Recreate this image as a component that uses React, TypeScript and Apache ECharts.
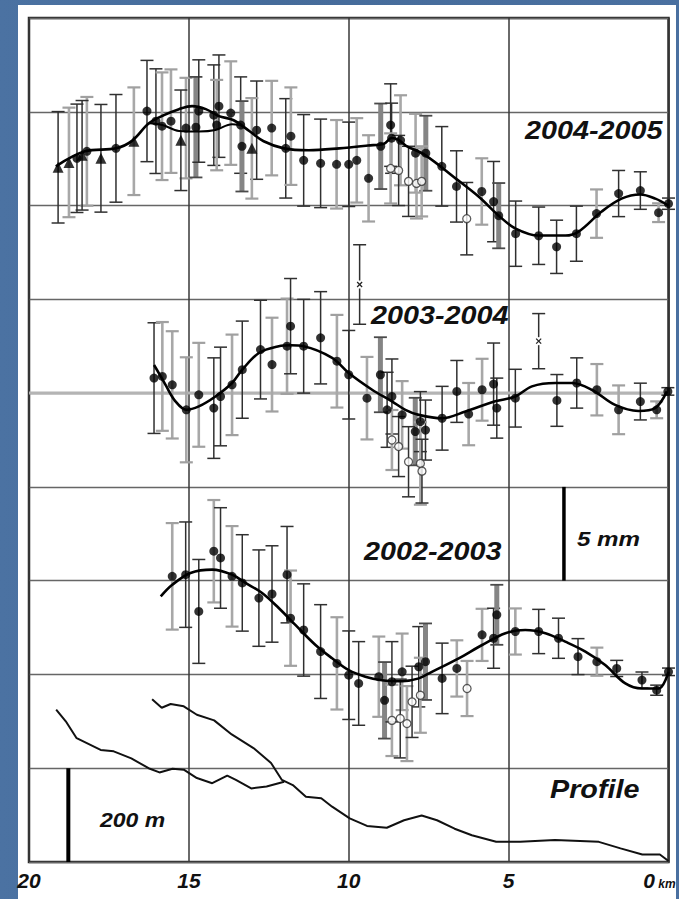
import React, { useEffect, useRef } from "react";
import * as echarts from "echarts";

// [distance km, displacement mm, ± error mm, survey source (0 = levelling A, 1 = levelling B, 2 = combined)]
type Obs = [number, number, number, number];
type Pt = [number, number];

// ---- 2004-2005 ----
const dots0405: Obs[] = [
  [18.5, 2.52, 2.89, 0], [18.19, 2.89, 2.9, 1], [17.28, 3.05, 2.87, 0], [16.31, 5.04, 2.7, 0],
  [16.03, 4.5, 2.79, 0], [15.84, 4.23, 2.87, 1], [15.56, 4.5, 2.76, 1], [15.09, 4.13, 2.68, 1],
  [14.78, 4.18, 2.68, 2], [14.69, 5.04, 2.73, 0], [14.22, 4.82, 2.68, 0], [14.06, 5.3, 2.73, 0],
  [14.13, 4.29, 2.41, 1], [13.69, 4.93, 2.76, 1], [13.38, 4.29, 2.57, 0], [13.34, 3.16, 2.41, 2],
  [12.88, 4.02, 2.62, 0], [12.41, 4.13, 2.52, 1], [11.97, 3.05, 2.65, 0], [11.81, 3.7, 2.6, 1],
  [11.41, 2.41, 2.44, 0], [10.88, 2.25, 2.36, 0], [10.38, 2.2, 2.36, 1], [10.0, 2.2, 2.25, 0],
  [9.75, 2.41, 2.25, 1], [9.38, 1.45, 2.3, 1], [9.0, 3.16, 2.28, 2], [8.69, 4.29, 2.2, 0],
  [8.66, 3.59, 1.87, 0], [8.38, 3.48, 2.4, 1], [7.91, 2.79, 2.1, 1], [7.59, 2.79, 2.0, 2],
  [7.09, 2.09, 2.12, 0], [6.63, 1.02, 1.9, 0], [5.84, 0.75, 1.77, 1], [5.47, 0.21, 2.14, 0],
  [5.31, -0.54, 1.74, 2], [4.78, -1.5, 1.74, 0], [4.06, -1.61, 1.53, 0], [3.5, -2.2, 1.42, 0],
  [2.88, -1.5, 1.47, 0], [2.25, -0.43, 1.29, 1], [1.56, 0.64, 1.23, 0], [0.88, 0.8, 1.0, 0],
  [0.31, -0.38, 0.5, 1], [0.0, 0.1, 0.3, 0],
];
const triangles0405: Obs[] = [
  [19.09, 2.04, 2.97, 0], [18.75, 2.3, 2.92, 1], [18.34, 2.68, 2.92, 0], [17.75, 2.52, 2.87, 0],
  [16.72, 3.43, 2.87, 1], [15.25, 3.48, 2.68, 0], [13.03, 3.05, 2.68, 1],
];
const open0405: Obs[] = [
  [8.69, 1.98, 1.87, 1], [8.44, 1.87, 1.87, 0], [8.13, 1.29, 1.87, 0], [7.88, 1.18, 1.87, 1],
  [7.72, 1.29, 1.87, 1], [6.31, -0.7, 1.93, 0],
];
const fit0405: Pt[] = [
  [19.16, 2.09], [18.25, 2.89], [17.28, 3.05], [16.78, 3.45], [16.25, 4.39], [15.78, 4.82],
  [15.31, 5.14], [14.9, 5.3], [14.47, 5.14], [14.06, 4.77], [13.6, 4.55], [13.1, 3.96],
  [12.66, 3.43], [12.03, 3.05], [11.25, 2.95], [10.3, 3.05], [9.4, 3.2], [8.9, 3.3],
  [8.66, 3.6], [8.44, 3.5], [8.22, 3.2], [7.6, 2.68], [6.66, 1.45], [5.94, 0.48],
  [5.31, -0.54], [4.78, -1.23], [4.06, -1.6], [3.22, -1.6], [2.81, -1.39], [2.09, -0.32],
  [1.47, 0.37], [0.88, 0.59], [0.41, 0.37], [0.0, 0.0],
];
const fit0405Alt: Pt[] = [
  [16.25, 4.39], [15.83, 4.3], [15.31, 3.98], [14.69, 3.95], [14.17, 4.03], [13.65, 4.34], [13.4, 4.3],
];

// ---- 2003-2004 ----
const dots0304: Obs[] = [
  [16.09, 0.8, 2.95, 0], [15.83, 0.89, 2.9, 1], [15.52, 0.44, 2.86, 1], [15.08, -0.89, 2.8, 1],
  [14.69, -0.09, 2.77, 1], [14.22, -0.8, 2.68, 0], [14.01, -0.18, 2.63, 0], [13.65, 0.44, 2.68, 1],
  [13.33, 1.25, 2.59, 0], [12.76, 2.32, 2.63, 0], [12.4, 1.52, 2.5, 1], [11.93, 2.5, 2.54, 1],
  [11.82, 3.57, 2.54, 0], [11.41, 2.5, 2.5, 0], [10.88, 2.95, 2.46, 0], [10.37, 1.7, 2.47, 1],
  [10.0, 0.98, 2.36, 0], [9.43, -0.27, 2.2, 1], [9.01, 0.98, 2.0, 2], [8.8, -0.89, 2.0, 0],
  [8.65, -0.18, 2.0, 0], [8.33, -1.16, 1.8, 1], [7.92, -2.05, 1.8, 2], [7.76, -1.52, 1.6, 0],
  [7.6, -1.97, 1.6, 0], [7.08, -1.34, 1.7, 0], [6.62, 0.09, 1.65, 0], [6.25, -1.12, 1.66, 1],
  [5.83, 0.18, 1.65, 1], [5.47, 0.48, 2.19, 0], [5.37, -0.8, 1.6, 0], [4.79, -0.27, 1.54, 0],
  [3.49, -0.39, 1.38, 0], [2.87, 0.54, 1.34, 0], [2.24, 0.18, 1.37, 1], [1.56, -0.89, 1.3, 1],
  [0.88, -0.45, 0.98, 0], [0.37, -0.89, 0.45, 1], [0.02, 0.09, 0.2, 0],
];
const open0304: Obs[] = [
  [8.65, -2.5, 1.6, 1], [8.44, -2.85, 1.6, 0], [8.13, -3.66, 1.87, 0], [7.76, -3.75, 2.2, 1],
  [7.71, -4.16, 1.7, 0],
];
const cross0304: Obs[] = [
  [9.66, 5.79, 2.12, 0], [4.06, 2.77, 1.47, 0],
];
const fit0304: Pt[] = [
  [16.09, 1.5], [15.94, 1.07], [15.73, 0.44], [15.42, -0.44], [15.08, -0.89], [14.69, -0.71],
  [14.17, -0.18], [13.65, 0.54], [13.33, 1.25], [12.81, 2.14], [12.19, 2.5], [11.82, 2.55],
  [11.41, 2.5], [10.52, 1.88], [10.0, 1.07], [9.27, 0.18], [8.65, -0.44], [8.23, -0.89],
  [7.81, -1.16], [7.08, -1.34], [6.35, -0.98], [5.42, -0.44], [4.79, -0.18], [4.27, 0.36],
  [3.54, 0.54], [3.02, 0.54], [2.4, 0.18], [1.67, -0.63], [0.94, -0.95], [0.42, -0.8], [0.05, 0.09],
];

// ---- 2002-2003 ----
const dots0203: Obs[] = [
  [15.52, 5.23, 2.84, 1], [15.1, 5.32, 2.81, 0], [14.69, 3.36, 2.77, 0], [14.22, 6.57, 2.73, 1],
  [14.01, 6.21, 2.68, 0], [13.65, 5.23, 2.68, 1], [13.33, 4.88, 2.57, 0], [12.81, 4.07, 2.57, 0],
  [12.4, 4.29, 2.57, 0], [11.93, 5.32, 2.57, 0], [11.82, 3.0, 2.54, 1], [11.41, 2.37, 2.46, 0],
  [10.88, 1.22, 2.5, 0], [10.37, 0.59, 2.46, 1], [10.0, -0.04, 2.36, 0], [9.69, -0.48, 2.23, 0],
  [9.06, -0.12, 2.14, 1], [8.88, -1.38, 2.04, 2], [8.65, -0.39, 2.14, 0], [8.33, 0.14, 2.04, 1],
  [7.81, 0.41, 2.14, 0], [7.6, 0.68, 2.04, 2], [7.08, -0.21, 1.88, 0], [6.62, 0.32, 1.5, 1],
  [5.83, 2.11, 1.39, 1], [5.47, 1.93, 1.6, 0], [5.37, 3.18, 1.6, 2], [4.79, 2.29, 1.23, 1],
  [4.06, 2.29, 1.18, 0], [3.44, 1.93, 1.07, 0], [2.83, 0.95, 0.96, 0], [2.24, 0.68, 0.75, 1],
  [1.62, 0.32, 0.43, 0], [0.83, -0.3, 0.43, 0], [0.37, -0.84, 0.27, 0], [0.0, 0.14, 0.2, 0],
];
const open0203: Obs[] = [
  [8.65, -2.45, 1.9, 1], [8.39, -2.35, 2.1, 0], [8.18, -2.62, 2.0, 1], [8.02, -1.46, 1.9, 0],
  [7.76, -1.11, 2.0, 1], [6.3, -0.75, 1.47, 1],
];
const fit0203: Pt[] = [
  [15.88, 4.16], [15.52, 4.78], [14.95, 5.41], [14.27, 5.59], [13.65, 5.32], [13.23, 4.88],
  [12.71, 4.34], [12.19, 3.54], [11.67, 2.64], [11.04, 1.57], [10.52, 0.86], [10.0, 0.23],
  [9.48, -0.12], [8.96, -0.31], [8.33, -0.36], [7.81, -0.21], [7.4, 0.14], [6.56, 0.86],
  [5.83, 1.57], [5.1, 2.2], [4.48, 2.37], [3.85, 2.2], [3.23, 1.75], [2.6, 1.22], [1.98, 0.5],
  [1.35, -0.48], [0.83, -0.75], [0.31, -0.75], [0.0, 0.14],
];

// ---- topographic profile, elevation in m ----
const profileUpper: Pt[] = [
  [19.15, 325], [18.85, 300], [18.51, 264], [17.76, 239], [17.35, 236], [16.8, 221],
  [16.26, 200], [15.92, 191], [15.51, 199], [15.16, 197], [14.75, 179], [14.27, 168],
  [13.8, 184], [13.53, 175], [13.05, 157], [12.57, 161], [12.02, 171],
];
const profileLower: Pt[] = [
  [16.15, 347], [15.85, 329], [15.57, 337], [15.16, 332], [14.75, 314], [14.21, 302],
  [13.66, 272], [12.98, 243], [12.43, 211], [12.09, 175], [11.75, 164], [11.34, 139],
  [10.86, 136], [10.52, 118], [9.97, 93], [9.43, 77], [8.81, 73], [8.27, 89], [7.72, 99],
  [7.24, 89], [6.69, 71], [6.15, 57], [5.39, 43], [4.64, 43], [3.55, 47], [2.18, 43],
  [1.5, 29], [0.82, 16], [0.27, 16], [0.0, 2],
];

const panelTitles = ["2004-2005", "2003-2004", "2002-2003"];
const kmTicks = [0, 5, 10, 15, 20];
const distanceUnit = "km";

// zero line of each survey on the shared millimetre axis
const BASE_0405 = 35;
const BASE_0304 = 25;
const BASE_0203 = 10;
const M_PER_MM = 40; // 200 m shown over one 5 mm band
const SCALE_MM = 5;
const SCALE_M = 200;

const FONT = "'Liberation Sans', Arial, Helvetica, sans-serif";
const BLUE = "#4a70a0";

const barStyles = [
  { stem: "#303030", stemW: 1.5, cap: "#303030", capW: 1.5 },
  { stem: "#a8a8a8", stemW: 2.6, cap: "#a0a0a0", capW: 2.2 },
  { stem: "#858585", stemW: 5, cap: "#4a4a4a", capW: 1.8 },
];

function errorBars(obs: Obs[], base: number, cross = false) {
  return {
    type: "custom",
    z: 2,
    silent: true,
    data: obs.map(([k, d, e, s]) => [k, base + d - e, base + d + e, s, base + d]),
    encode: { x: 0, y: [1, 2] },
    renderItem: (_p: any, api: any) => {
      const k = api.value(0);
      const lo = api.coord([k, api.value(1)]);
      const hi = api.coord([k, api.value(2)]);
      const st = barStyles[api.value(3)];
      const cap = 6.5;
      const children: any[] = [
        { type: "line", shape: { x1: lo[0], y1: lo[1], x2: hi[0], y2: hi[1] }, style: { stroke: st.stem, lineWidth: st.stemW } },
        { type: "line", shape: { x1: lo[0] - cap, y1: lo[1], x2: lo[0] + cap, y2: lo[1] }, style: { stroke: st.cap, lineWidth: st.capW } },
        { type: "line", shape: { x1: hi[0] - cap, y1: hi[1], x2: hi[0] + cap, y2: hi[1] }, style: { stroke: st.cap, lineWidth: st.capW } },
      ];
      if (cross) {
        const c = api.coord([k, api.value(4)]);
        const r = 2.5;
        children.push(
          { type: "rect", shape: { x: c[0] - 4, y: c[1] - 4, width: 8, height: 8 }, style: { fill: "#fff" } },
          { type: "line", shape: { x1: c[0] - r, y1: c[1] - r, x2: c[0] + r, y2: c[1] + r }, style: { stroke: "#222", lineWidth: 1.3 } },
          { type: "line", shape: { x1: c[0] - r, y1: c[1] + r, x2: c[0] + r, y2: c[1] - r }, style: { stroke: "#222", lineWidth: 1.3 } },
        );
      }
      return { type: "group", children };
    },
  };
}

function markers(obs: Obs[], base: number, symbol: string, size: number, open = false) {
  return {
    type: "scatter",
    z: 4,
    silent: true,
    symbol,
    symbolSize: size,
    data: obs.map(([k, d]) => [k, base + d]),
    itemStyle: open
      ? { color: "#ffffff", borderColor: "#333", borderWidth: 1.3 }
      : { color: "#000000" },
  };
}

function curve(pts: Pt[], base: number, width = 2.6) {
  return {
    type: "line",
    z: 3,
    silent: true,
    smooth: 0.35,
    showSymbol: false,
    data: pts.map(([k, d]) => [k, base + d]),
    lineStyle: { color: "#000", width },
  };
}

function profile(pts: Pt[]) {
  return {
    type: "line",
    z: 3,
    silent: true,
    showSymbol: false,
    data: pts.map(([k, m]) => [k, m / M_PER_MM]),
    lineStyle: { color: "#111", width: 2 },
  };
}

function scaleBar(km: number, from: number, to: number, width: number) {
  return {
    type: "line",
    z: 3,
    silent: true,
    showSymbol: false,
    data: [[km, from], [km, to]],
    lineStyle: { color: "#000", width },
  };
}

function label(text: string, x: number, y: number, size: number) {
  return {
    type: "text",
    x,
    y,
    scaleX: 1.15,
    z: 10,
    silent: true,
    style: {
      text,
      fill: "#111",
      fontFamily: FONT,
      fontWeight: "bold",
      fontStyle: "italic",
      fontSize: size,
      align: "left",
      textAlign: "left",
      verticalAlign: "middle",
      textVerticalAlign: "middle",
    },
  };
}

const tickFont = {
  fontFamily: FONT,
  fontWeight: "bold",
  fontStyle: "italic",
  color: "#111",
};

export default function App() {
  const ref = useRef<HTMLDivElement>(null);

  useEffect(() => {
    if (!ref.current) return;
    const chart = echarts.init(ref.current, undefined, { renderer: "svg" });
    chart.setOption({
      animation: false,
      backgroundColor: "transparent",
      grid: {
        left: 29,
        right: 10.5,
        top: 18,
        bottom: 37,
        containLabel: false,
        outerBoundsMode: "none",
        show: true,
        borderColor: "#2a2a2a",
        borderWidth: 2.5,
      },
      xAxis: {
        type: "value",
        min: kmTicks[0],
        max: kmTicks[kmTicks.length - 1],
        interval: 5,
        inverse: true,
        axisLine: { show: false },
        axisTick: { show: false },
        splitLine: { show: true, lineStyle: { color: "#383838", width: 1.5 } },
        axisLabel: {
          margin: 8,
          ...tickFont,
          fontSize: 21,
          // the last tick carries the unit, kept inside the frame
          formatter: (v: number) => (v === 0 ? `{n|0}{u| ${distanceUnit}}{p|}` : String(v)),
          rich: {
            n: { ...tickFont, fontSize: 21 },
            u: { ...tickFont, fontSize: 12, padding: [7, 0, 0, 0] },
            p: { width: 18 },
          },
        },
      },
      yAxis: {
        type: "value",
        min: 0,
        max: 45,
        interval: 5,
        axisLine: { show: false },
        axisTick: { show: false },
        axisLabel: { show: false },
        splitLine: { show: true, lineStyle: { color: "#666", width: 1.3 } },
      },
      graphic: [
        label(panelTitles[0], 525, 131, 25),
        label(panelTitles[1], 371, 316, 25),
        label(panelTitles[2], 364, 552, 25),
        label(`${SCALE_MM} mm`, 577, 539, 21),
        label("Profile", 550, 790, 25),
        label(`${SCALE_M} m`, 100, 820, 20),
      ],
      series: [
        // zero line of the 2003-2004 survey
        {
          type: "line",
          z: 1,
          silent: true,
          showSymbol: false,
          data: [[0, BASE_0304], [20, BASE_0304]],
          lineStyle: { color: "#b4b4b4", width: 3 },
        },
        errorBars(dots0405, BASE_0405),
        errorBars(triangles0405, BASE_0405),
        errorBars(open0405, BASE_0405),
        errorBars(dots0304, BASE_0304),
        errorBars(open0304, BASE_0304),
        errorBars(cross0304, BASE_0304, true),
        errorBars(dots0203, BASE_0203),
        errorBars(open0203, BASE_0203),
        curve(fit0405, BASE_0405),
        curve(fit0405Alt, BASE_0405, 2),
        curve(fit0304, BASE_0304),
        curve(fit0203, BASE_0203),
        profile(profileUpper),
        profile(profileLower),
        scaleBar(3.27, 15, 15 + SCALE_MM, 3.5),
        scaleBar(18.77, 0, SCALE_M / M_PER_MM, 4),
        markers(dots0405, BASE_0405, "circle", 9),
        markers(triangles0405, BASE_0405, "triangle", 11),
        markers(open0405, BASE_0405, "circle", 8, true),
        markers(dots0304, BASE_0304, "circle", 9),
        markers(open0304, BASE_0304, "circle", 8, true),
        markers(dots0203, BASE_0203, "circle", 9),
        markers(open0203, BASE_0203, "circle", 8, true),
      ],
    });
    return () => chart.dispose();
  }, []);

  return (
    <div
      style={{
        position: "fixed",
        left: 0,
        top: 0,
        width: 679,
        height: 899,
        overflow: "hidden",
        background: `linear-gradient(90deg, #4b72a2 0%, #456b9a 40%, ${BLUE} 100%)`,
      }}
    >
      <div style={{ position: "absolute", left: 17.5, top: 5, width: 658.5, height: 894, background: "#fff" }} />
      <div ref={ref} style={{ position: "absolute", left: 0, top: 0, width: 679, height: 899 }} />
      <div style={{ position: "absolute", left: 676, top: 0, width: 3, height: 899, background: BLUE }} />
    </div>
  );
}
